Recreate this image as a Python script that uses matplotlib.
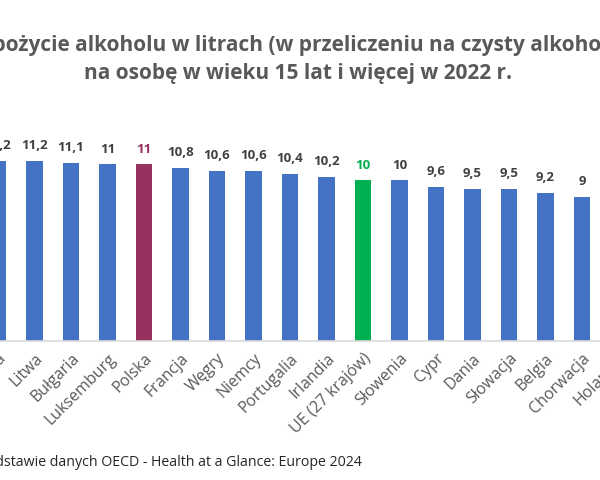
import matplotlib
matplotlib.use("Agg")
import matplotlib.pyplot as plt

countries = ["Austria", "Litwa", "Bułgaria", "Luksemburg", "Polska", "Francja", "Węgry",
             "Niemcy", "Portugalia", "Irlandia", "UE (27 krajów)", "Słowenia", "Cypr",
             "Dania", "Słowacja", "Belgia", "Chorwacja", "Holandia"]
litres = [11.2, 11.2, 11.1, 11.0, 11.0, 10.8, 10.6, 10.6, 10.4, 10.2, 10.0, 10.0, 9.6,
          9.5, 9.5, 9.2, 9.0, 8.8]
highlight = {"Polska": "#963160", "UE (27 krajów)": "#00B050"}
BLUE = "#4472C4"

plt.rcParams["font.family"] = ["Open Sans", "DejaVu Sans"]

# the picture is a crop of a wider chart: axes run past both figure edges
STEP = 36.5          # px between bars
X0, X1 = -60, 660    # axes extent in px
fig = plt.figure(figsize=(6, 4.8), dpi=100)
ax = fig.add_axes([X0 / 600, 139 / 480, (X1 - X0) / 600, 13 * 16.05 / 480])

idx = list(range(len(countries)))
colors = [highlight.get(c, BLUE) for c in countries]
ax.bar(idx, litres, width=0.45, color=colors)

for i, (c, v) in enumerate(zip(countries, litres)):
    txt = f"{v:g}".replace(".", ",")
    ax.annotate(txt, xy=(i, v), xytext=(0, 8.6), textcoords="offset points",
                ha="center", va="baseline", fontsize=9.5, fontweight="bold",
                color=highlight.get(c, "#404040"))

ax.set_xticks(idx, countries, rotation=45, ha="right", rotation_mode="anchor",
              fontsize=11.5, color="#595959")
ax.tick_params(axis="x", length=0, pad=7)
ax.set_yticks([])
ax.set_xlim((X0 + 2) / STEP, (X1 + 2) / STEP)
ax.set_ylim(0, 13)
for s in ("left", "right", "top"):
    ax.spines[s].set_visible(False)
ax.spines["bottom"].set_color("#d9d9d9")
ax.spines["bottom"].set_linewidth(1.2)

fig.text(0.497, 1 - 51 / 480, "Spożycie alkoholu w litrach (w przeliczeniu na czysty alkohol)",
         ha="center", va="baseline", fontsize=15, fontweight="bold", color="#595959")
fig.text(0.497, 1 - 79 / 480, "na osobę w wieku 15 lat i więcej w 2022 r.",
         ha="center", va="baseline", fontsize=15, fontweight="bold", color="#595959")
fig.text(362 / 600, 1 - 466 / 480,
         "Źródło: opracowanie własne na podstawie danych OECD - Health at a Glance: Europe 2024",
         ha="right", va="baseline", fontsize=10.2, color="#262626")

fig.savefig("out.png", dpi=100)
